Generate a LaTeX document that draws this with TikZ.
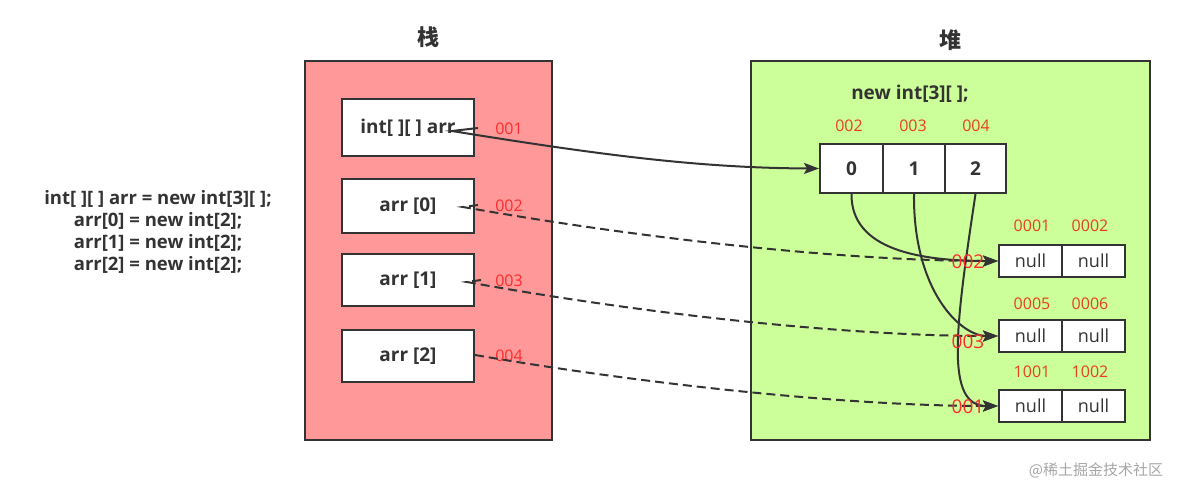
\documentclass[tikz,border=0pt]{standalone}
\usepackage{fontspec}
\setmainfont{Open Sans}
\newfontfamily\cjkf{Noto Sans CJK SC}
\usetikzlibrary{arrows.meta}
\definecolor{stackred}{HTML}{FF9999}
\definecolor{heapgreen}{HTML}{CCFF99}
\definecolor{edge}{HTML}{333333}
\definecolor{lblred}{HTML}{FF2A2A}
\definecolor{lblorange}{HTML}{E8401C}
\tikzset{
  region/.style={draw=edge, line width=2pt, inner sep=0pt},
  cellbox/.style={draw=edge, line width=2pt, fill=white, inner sep=0pt, font=\bfseries\fontsize{19}{22}\selectfont, text=edge},
  nullbox/.style={draw=edge, line width=2pt, fill=white, inner sep=0pt, minimum width=63pt, minimum height=32pt, font=\fontsize{18}{20}\selectfont, text=edge},
  addr/.style={text=lblred, font=\fontsize{16}{18}\selectfont, inner sep=0pt},
  addro/.style={text=lblorange, font=\fontsize{16}{18}\selectfont, inner sep=0pt},
  bigaddr/.style={text=lblred, font=\fontsize{19}{21}\selectfont, inner sep=0pt},
  title/.style={font=\cjkf\bfseries\fontsize{22}{24}\selectfont, text=edge, inner sep=0pt},
  conn/.style={draw=edge, line width=2pt, -{Stealth[length=15pt,width=11pt,inset=3pt]}},
  dconn/.style={conn, dash pattern=on 9pt off 5pt},
}
\begin{document}
\begin{tikzpicture}[x=1pt,y=-1pt]
\useasboundingbox (0,0) rectangle (1195,499);
% regions
\node[region, fill=stackred, minimum width=247pt, minimum height=379pt] (stack) at (428.5,250.5) {};
\node[region, fill=heapgreen, minimum width=399pt, minimum height=379pt] (heap) at (950.5,250.5) {};
\node[title] (tstack) at (428,37) {栈};
\node[title] (theap) at (950,40) {堆};
% stack cells
\node[cellbox, minimum width=132pt, minimum height=57pt] (s1) at (408,127.5) {int[ ][ ] arr};
\node[cellbox, minimum width=132pt, minimum height=54pt] (s2) at (408,206) {arr [0]};
\node[cellbox, minimum width=132pt, minimum height=52pt] (s3) at (408,280) {arr [1]};
\node[cellbox, minimum width=132pt, minimum height=52pt] (s4) at (408,356) {arr [2]};
\node[addr] (a1) at (509,129) {001};
\node[addr] (a2) at (509,206) {002};
\node[addr] (a3) at (509,281) {003};
\node[addr] (a4) at (509,356) {004};
% code
\node[align=center, font=\bfseries\fontsize{18.5}{22}\selectfont, text=edge, inner sep=0pt] (code) at (158,232)
  {int[ ][ ] arr = new int[3][ ];\\arr[0] = new int[2];\\arr[1] = new int[2];\\arr[2] = new int[2];};
% heap top array
\node[font=\bfseries\fontsize{19}{22}\selectfont, text=edge, inner sep=0pt] (newlbl) at (910,94) {new int[3][ ];};
\node[cellbox, minimum width=63pt, minimum height=49pt] (c0) at (851.5,168.5) {0};
\node[cellbox, minimum width=62pt, minimum height=49pt] (c1) at (914,168.5) {1};
\node[cellbox, minimum width=61pt, minimum height=49pt] (c2) at (975.5,168.5) {2};
\node[addro] (h2) at (849,126) {002};
\node[addro] (h3) at (913,126) {003};
\node[addro] (h4) at (976,126) {004};
% small arrays
\node[nullbox] (r1a) at (1030.5,261) {null};
\node[nullbox] (r1b) at (1093.5,261) {null};
\node[nullbox] (r2a) at (1030.5,336) {null};
\node[nullbox] (r2b) at (1093.5,336) {null};
\node[nullbox] (r3a) at (1030.5,406) {null};
\node[nullbox] (r3b) at (1093.5,406) {null};
\node[addro] (l11) at (1032,226) {0001};
\node[addro] (l12) at (1090,226) {0002};
\node[addro] (l21) at (1032,304) {0005};
\node[addro] (l22) at (1090,304) {0006};
\node[addro] (l31) at (1032,372) {1001};
\node[addro] (l32) at (1090,372) {1002};
% connector anchor points
\coordinate (p1s) at (478,128);
\coordinate (p1) at (452,131);
\coordinate (p2s) at (478,205);
\coordinate (p2) at (463,207);
\coordinate (p3s) at (481,280);
\coordinate (p3) at (467,282);
\coordinate (p4) at (475,355);
% connectors
\draw[conn] (p1s) -- (p1) .. controls (600,155) and (700,168) .. (c0.west);
\draw[dconn] (p2s) -- (p2) .. controls (650,240) and (850,261) .. (r1a.west);
\draw[dconn] (p3s) -- (p3) .. controls (650,315) and (850,336) .. (r2a.west);
\draw[dconn] (p4) .. controls (650,385) and (850,406) .. (r3a.west);
\draw[conn] (c0.south) .. controls (851,250) and (920,261) .. (r1a.west);
\draw[conn] (c1.south) .. controls (913,290) and (960,336) .. (r2a.west);
\draw[conn] (c2.south) .. controls (955,330) and (945,406) .. (r3a.west);
% overlapping labels
\node[bigaddr] (b1) at (968,262) {002};
\node[bigaddr] (b2) at (968,342) {003};
\node[bigaddr] (b3) at (968,407) {001};
% watermark
\node[font=\cjkf\fontsize{15}{17}\selectfont, text=black!35, inner sep=0pt] (wm) at (1096,470) {@稀土掘金技术社区};
\end{tikzpicture}
\end{document}
